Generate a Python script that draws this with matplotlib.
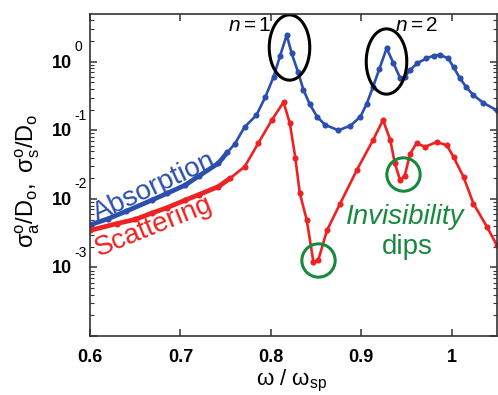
import numpy as np
import matplotlib
matplotlib.use("Agg")
import matplotlib.pyplot as plt
from matplotlib.path import Path
from matplotlib.ticker import LogLocator, NullFormatter

plt.rcParams['font.family'] = ['Liberation Sans', 'DejaVu Sans']
plt.rcParams['mathtext.fontset'] = 'custom'
plt.rcParams['mathtext.rm'] = 'Liberation Sans'
plt.rcParams['mathtext.it'] = 'Liberation Sans:italic'

# absorption (blue)
abs_x = [0.600, 0.620, 0.640, 0.668, 0.685, 0.705, 0.720, 0.742, 0.752, 0.760,
         0.771, 0.784, 0.794, 0.803, 0.810, 0.8175, 0.823, 0.830, 0.836, 0.843,
         0.851, 0.860, 0.8747, 0.888, 0.899, 0.906, 0.913, 0.920, 0.928, 0.9355,
         0.943, 0.948, 0.954, 0.962, 0.972, 0.980, 0.987, 0.996, 1.002, 1.009,
         1.016, 1.024, 1.035, 1.050]
abs_y = [0.00417, 0.00513, 0.0066, 0.00955, 0.0120, 0.0158, 0.0214, 0.0331, 0.0479, 0.0631,
         0.112, 0.166, 0.309, 0.603, 1.20, 2.45, 1.32, 0.708, 0.389, 0.240,
         0.158, 0.120, 0.100, 0.117, 0.158, 0.245, 0.432, 0.794, 1.57, 0.955,
         0.575, 0.603, 0.759, 0.955, 1.12, 1.23, 1.26, 1.12, 0.832, 0.575,
         0.427, 0.324, 0.251, 0.195]

# scattering (red)
sca_x = [0.600, 0.630, 0.650, 0.668, 0.685, 0.705, 0.720, 0.742, 0.755, 0.771,
         0.786, 0.801, 0.814, 0.821, 0.827, 0.832, 0.8397, 0.847, 0.8525, 0.862,
         0.8765, 0.895, 0.913, 0.924, 0.932, 0.937, 0.943, 0.948, 0.954, 0.961,
         0.9706, 0.9835, 0.9946, 1.002, 1.013, 1.024, 1.039, 1.050]
sca_y = [0.00347, 0.00437, 0.00501, 0.00617, 0.00741, 0.00955, 0.01148, 0.0151, 0.0200, 0.0295,
         0.0646, 0.141, 0.257, 0.126, 0.0398, 0.0120, 0.0049, 0.00120, 0.00129, 0.00347,
         0.00851, 0.0263, 0.0724, 0.141, 0.0724, 0.0331, 0.0186, 0.0219, 0.0457, 0.0646,
         0.0575, 0.0676, 0.0603, 0.0407, 0.0209, 0.00851, 0.00389, 0.00209]

# n=1, n=2 peaks (black ellipses) and invisibility dips (green circles)
peak_x = [0.8196, 0.9274]
peak_y = [1.64, 1.04]
dip_x = [0.8525, 0.9459]
dip_y = [0.0013, 0.0229]

blue = '#2b4fae'
red = '#ee2222'
green = '#17893d'

fig = plt.figure(figsize=(4.98, 3.95), dpi=100)
ax = fig.add_axes([90 / 498, 59 / 395, 407 / 498, 322 / 395])

for x, y, c in [(abs_x, abs_y, blue), (sca_x, sca_y, red)]:
    x = np.array(x)
    y = np.array(y)
    low = x <= 0.755
    ax.plot(x[low], y[low], color=c, lw=3.4, solid_capstyle='round')
    ax.plot(x, y, color=c, lw=1.9, marker='o', ms=4.4, mew=0)

theta = np.linspace(0, 2 * np.pi, 100)
ell = Path(np.column_stack([41 * np.cos(theta), 66 * np.sin(theta)]))
ax.plot(peak_x, peak_y, ls='none', marker=ell, ms=47, mfc='none', mec='black', mew=2.2)
ax.plot(dip_x, dip_y, ls='none', marker='o', ms=24, mfc='none', mec=green, mew=2.2)

ax.text(0.6708, 0.01456, 'Absorption', color=blue, fontsize=20, rotation=25,
        ha='center', va='center', rotation_mode='anchor')
ax.text(0.6708, 0.00399, 'Scattering', color=red, fontsize=20, rotation=22,
        ha='center', va='center', rotation_mode='anchor')
ax.text(0.9485, 0.0054, 'Invisibility', color=green, fontsize=20, style='italic',
        ha='center', va='center')
ax.text(0.9507, 0.0020, 'dips', color=green, fontsize=20, ha='center', va='center')
ax.text(0.777, 3.43, r'$n\mathregular{=1}$', fontsize=15, ha='center', va='center')
ax.text(0.9606, 3.37, r'$n\mathregular{=2}$', fontsize=15, ha='center', va='center')

ax.set_yscale('log')
ax.set_xlim(0.6, 1.05)
ax.set_ylim(1e-4, 4.97)
ax.set_xticks([0.6, 0.7, 0.8, 0.9, 1.0])
ax.set_xticklabels(['0.6', '0.7', '0.8', '0.9', '1'])
ax.yaxis.set_major_locator(LogLocator(base=10, numticks=10))
ax.yaxis.set_minor_locator(LogLocator(base=10, subs=np.arange(2, 10), numticks=10))
ax.yaxis.set_major_formatter(NullFormatter())
ax.yaxis.set_minor_formatter(NullFormatter())
ax.tick_params(which='both', direction='in', top=True, right=True, color='#333333')
ax.tick_params(which='major', length=5, width=1.1)
ax.tick_params(which='minor', length=3, width=0.8)
ax.tick_params(axis='x', labelsize=13, pad=9)
for lab in ax.get_xticklabels():
    lab.set_fontweight('bold')
for s in ax.spines.values():
    s.set_linewidth(1.2)
    s.set_color('#333333')

for k in [0, -1, -2, -3]:
    ax.annotate('10', xy=(0, 10.0 ** k), xycoords=('axes fraction', 'data'),
                xytext=(-13, -1), textcoords='offset points', ha='right', va='center',
                fontsize=13, fontweight='bold')
    ax.annotate(str(k), xy=(0, 10.0 ** k), xycoords=('axes fraction', 'data'),
                xytext=(-11.5, 10.5), textcoords='offset points', ha='left', va='center',
                fontsize=10)

ax.set_xlabel(r'$\mathregular{ω\ /\ ω_{sp}}$', fontsize=16, va='top')
ax.xaxis.set_label_coords(0.496, -0.098)
ax.set_ylabel(r'$\mathregular{σ^o_a/D_o,\ σ^o_s/D_o}$', fontsize=17, va='center')
ax.yaxis.set_label_coords(-0.152, 0.481)

fig.savefig('out.png', dpi=100)
